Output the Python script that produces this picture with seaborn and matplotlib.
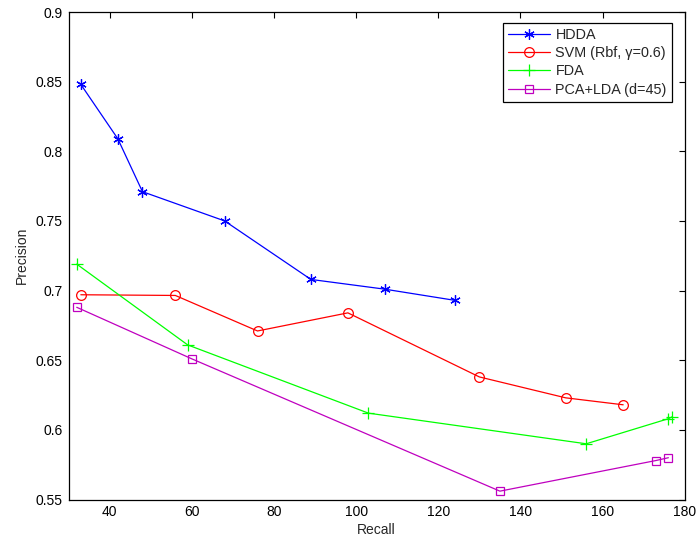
import numpy as np
import pandas as pd
import matplotlib
matplotlib.use('Agg')
import matplotlib.pyplot as plt
import seaborn as sns

# values
hdda_recall = [33, 42, 48, 68, 89, 107, 124]
hdda_prec = [0.848, 0.809, 0.771, 0.750, 0.708, 0.701, 0.693]

svm_recall = [33, 56, 76, 98, 130, 151, 165]
svm_prec = [0.697, 0.6965, 0.671, 0.684, 0.638, 0.623, 0.618]

fda_recall = [32, 59, 103, 156, 176, 177]
fda_prec = [0.719, 0.661, 0.612, 0.590, 0.608, 0.6095]

pca_recall = [32, 60, 135, 173, 176]
pca_prec = [0.688, 0.651, 0.556, 0.578, 0.580]

series_names = ['HDDA', 'SVM (Rbf, \u03b3=0.6)', 'FDA', 'PCA+LDA (d=45)']

x_ticks = [40, 60, 80, 100, 120, 140, 160, 180]
y_ticks = [0.55, 0.6, 0.65, 0.7, 0.75, 0.8, 0.85, 0.9]
y_tick_labels = ['0.55', '0.6', '0.65', '0.7', '0.75', '0.8', '0.85', '0.9']

sns.set_style('white')
plt.rcParams['font.family'] = ['Liberation Sans', 'DejaVu Sans']
plt.rcParams['font.size'] = 10

fig = plt.figure(figsize=(6.97, 5.41), dpi=100)
ax = fig.add_axes([0.0983, 0.0767, 0.8842, 0.9011])

styles = [
    dict(marker=(6, 2, 0), color=(0, 0, 1), markersize=7.5),
    dict(marker='o', color=(1, 0, 0), markersize=7, markerfacecolor='none'),
    dict(marker='+', color=(0, 1, 0), markersize=8),
    dict(marker='s', color=(0.75, 0, 0.75), markersize=5.5, markerfacecolor='none'),
]
data = [(hdda_recall, hdda_prec), (svm_recall, svm_prec),
        (fda_recall, fda_prec), (pca_recall, pca_prec)]

for (xs, ys), name, st in zip(data, series_names, styles):
    df = pd.DataFrame({'Recall': xs, 'Precision': ys})
    sns.lineplot(data=df, x='Recall', y='Precision', ax=ax, label=name,
                 sort=False, linewidth=0.9, markeredgewidth=0.9,
                 markeredgecolor=st['color'], **st)

ax.set_xlim(30, 180)
ax.set_ylim(0.55, 0.9)
ax.set_xticks(x_ticks)
ax.set_yticks(y_ticks)
ax.set_yticklabels(y_tick_labels)
ax.tick_params(direction='in', length=4, width=0.8, top=True, right=True,
               labelsize=10, colors='black', pad=4)
for sp in ax.spines.values():
    sp.set_visible(True)
    sp.set_color('black')
    sp.set_linewidth(0.9)

ax.set_xlabel('Recall', fontsize=10, labelpad=3)
ax.set_ylabel('Precision', fontsize=10, labelpad=5)

leg = ax.legend(loc='upper right', bbox_to_anchor=(0.979, 0.978),
                borderaxespad=0, fancybox=False, framealpha=1,
                edgecolor='black', fontsize=10.4, handlelength=2.95,
                handletextpad=0.35, labelspacing=0.3, borderpad=0.35)
leg.get_frame().set_linewidth(0.9)

fig.savefig('out.png', dpi=100)
